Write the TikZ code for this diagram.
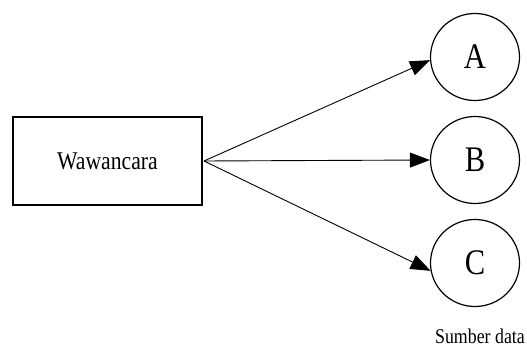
\documentclass[tikz,border=0pt]{standalone}
\usepackage{fontspec}
\setmainfont{Liberation Serif}
\newfontfamily\condfont[FakeStretch=0.85]{Liberation Serif}
\usetikzlibrary{arrows.meta,shapes.geometric}
\begin{document}
\begin{tikzpicture}[x=1pt,y=-1pt,
  boxst/.style={draw,line width=1.3pt,minimum width=189pt,minimum height=88pt,inner sep=0pt,font=\condfont\fontsize{25.5}{28}\selectfont},
  circst/.style={draw,ellipse,line width=1.2pt,minimum width=89pt,minimum height=87pt,inner sep=0pt,font=\condfont\fontsize{36}{40}\selectfont},
  arr/.style={line width=0.9pt,-{Triangle[length=20pt,width=15pt]}}]
\useasboundingbox (0,0) rectangle (527,347);
\node[boxst] (w) at (107.5,161) {Wawancara};
\node[circst] (A) at (475,57) {A};
\node[circst] (B) at (475,160) {B};
\node[circst] (C) at (475,263) {C};
\node[font=\condfont\fontsize{21}{24}\selectfont] (s) at (480,336) {Sumber data};
\coordinate (o) at (204,161);
\draw[arr] (o) -- (A.184);
\draw[arr] (o) -- (B.west);
\draw[arr] (o) -- (C.190);
\end{tikzpicture}
\end{document}
